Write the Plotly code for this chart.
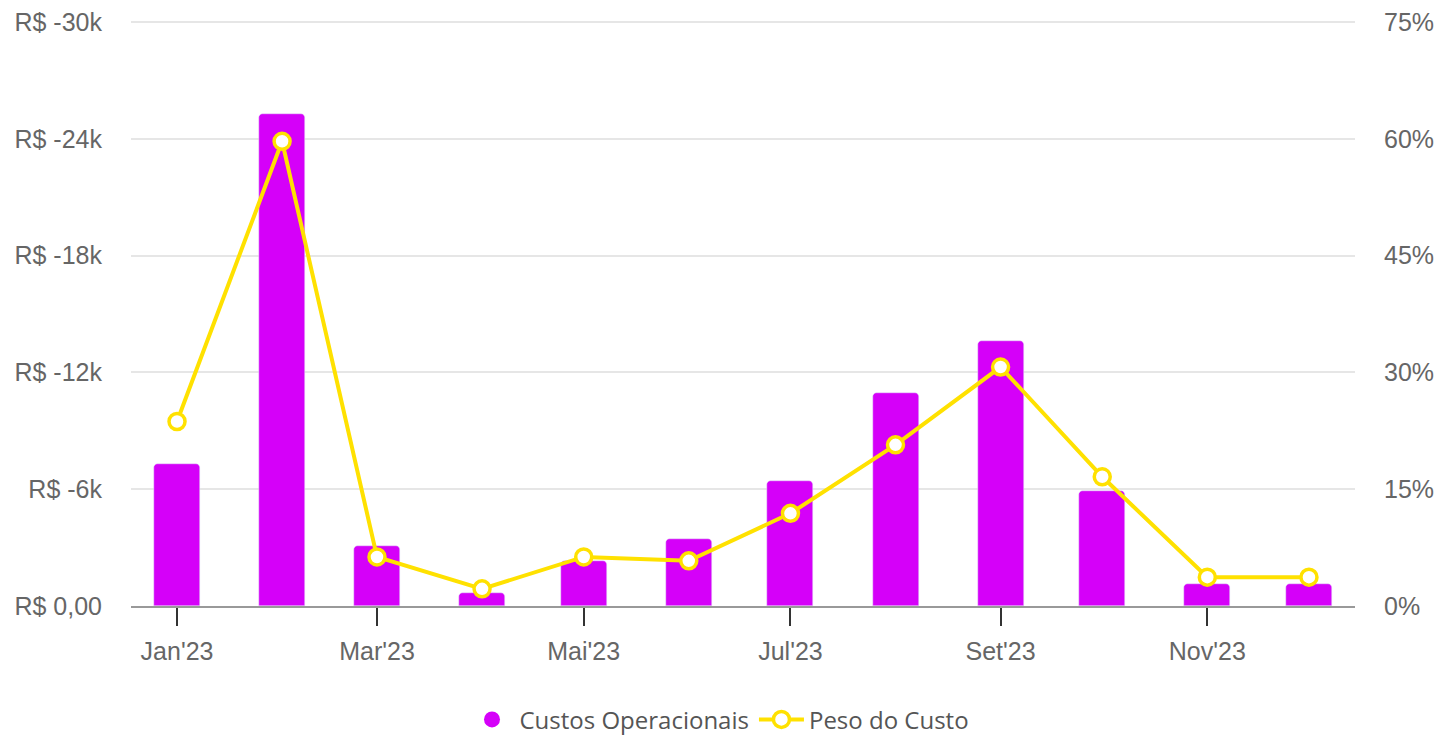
import plotly.graph_objects as go

# dados mensais 2023
months = ["2023-01-01", "2023-02-01", "2023-03-01", "2023-04-01", "2023-05-01", "2023-06-01",
          "2023-07-01", "2023-08-01", "2023-09-01", "2023-10-01", "2023-11-01", "2023-12-01"]
custos = [-7300, -25300, -3100, -650, -2300, -3450, -6400, -10950, -13600, -5900, -1150, -1150]
peso = [23.7, 59.7, 6.3, 2.2, 6.3, 5.8, 11.9, 20.7, 30.7, 16.6, 3.7, 3.7]

x_tickvals = ["2023-01-01", "2023-03-01", "2023-05-01", "2023-07-01", "2023-09-01", "2023-11-01"]
x_ticktext = ["Jan'23", "Mar'23", "Mai'23", "Jul'23", "Set'23", "Nov'23"]
y_tickvals = [0, -6000, -12000, -18000, -24000, -30000]
y_ticktext = ["R$ 0,00", "R$ -6k", "R$ -12k", "R$ -18k", "R$ -24k", "R$ -30k"]
y2_tickvals = [0, 15, 30, 45, 60, 75]
y2_ticktext = ["0%", "15%", "30%", "45%", "60%", "75%"]

PURPLE = "#D500F9"
YELLOW = "#FFE100"
axis_font = dict(family="Liberation Sans, Arial", size=25, color="#666666")

fig = go.Figure()
fig.add_bar(x=months, y=custos, name="Custos Operacionais", marker_color=PURPLE,
            marker_cornerradius=4, width=13.57 * 86400000, showlegend=False)
# legend entry with a round marker for the bars
fig.add_scatter(x=[None], y=[None], mode="markers", name="Custos Operacionais",
                marker=dict(symbol="circle", size=22, color=PURPLE))
fig.add_scatter(x=months, y=peso, yaxis="y2", mode="lines+markers", name="Peso do Custo",
                line=dict(color=YELLOW, width=4),
                marker=dict(symbol="circle", size=16, color="white",
                            line=dict(color=YELLOW, width=3.5)))

fig.update_layout(
    width=1439, height=736,
    margin=dict(l=131, r=84, t=21, b=130),
    plot_bgcolor="white", paper_bgcolor="white",
    bargap=0,
    xaxis=dict(type="date", range=["2022-12-18 10:00", "2023-12-14 14:00"],
               tickvals=x_tickvals, ticktext=x_ticktext, tickfont=axis_font,
               ticks="outside", ticklen=18, tickwidth=2, tickcolor="#333333",
               ticklabelstandoff=4,
               showgrid=False, showline=True, linecolor="#999999", linewidth=2,
               zeroline=False),
    yaxis=dict(range=[0, -30060], tickvals=y_tickvals, ticktext=y_ticktext,
               tickfont=axis_font, gridcolor="#e6e6e6", gridwidth=2,
               zeroline=False, ticklabelstandoff=28, automargin=False),
    yaxis2=dict(range=[0, 75.15], overlaying="y", side="right", tickvals=y2_tickvals,
                ticktext=y2_ticktext, tickfont=axis_font, showgrid=False,
                zeroline=False, ticklabelstandoff=28, automargin=False),
    legend=dict(orientation="h", xref="container", yref="container", x=0.5, y=0.022,
                xanchor="center", yanchor="middle", itemwidth=45,
                font=dict(family="Open Sans", size=24, color="#555555"),
                itemsizing="trace"),
)

fig.write_html("out.html", config={"displayModeBar": False},
               post_script="document.body.style.margin='0';")
